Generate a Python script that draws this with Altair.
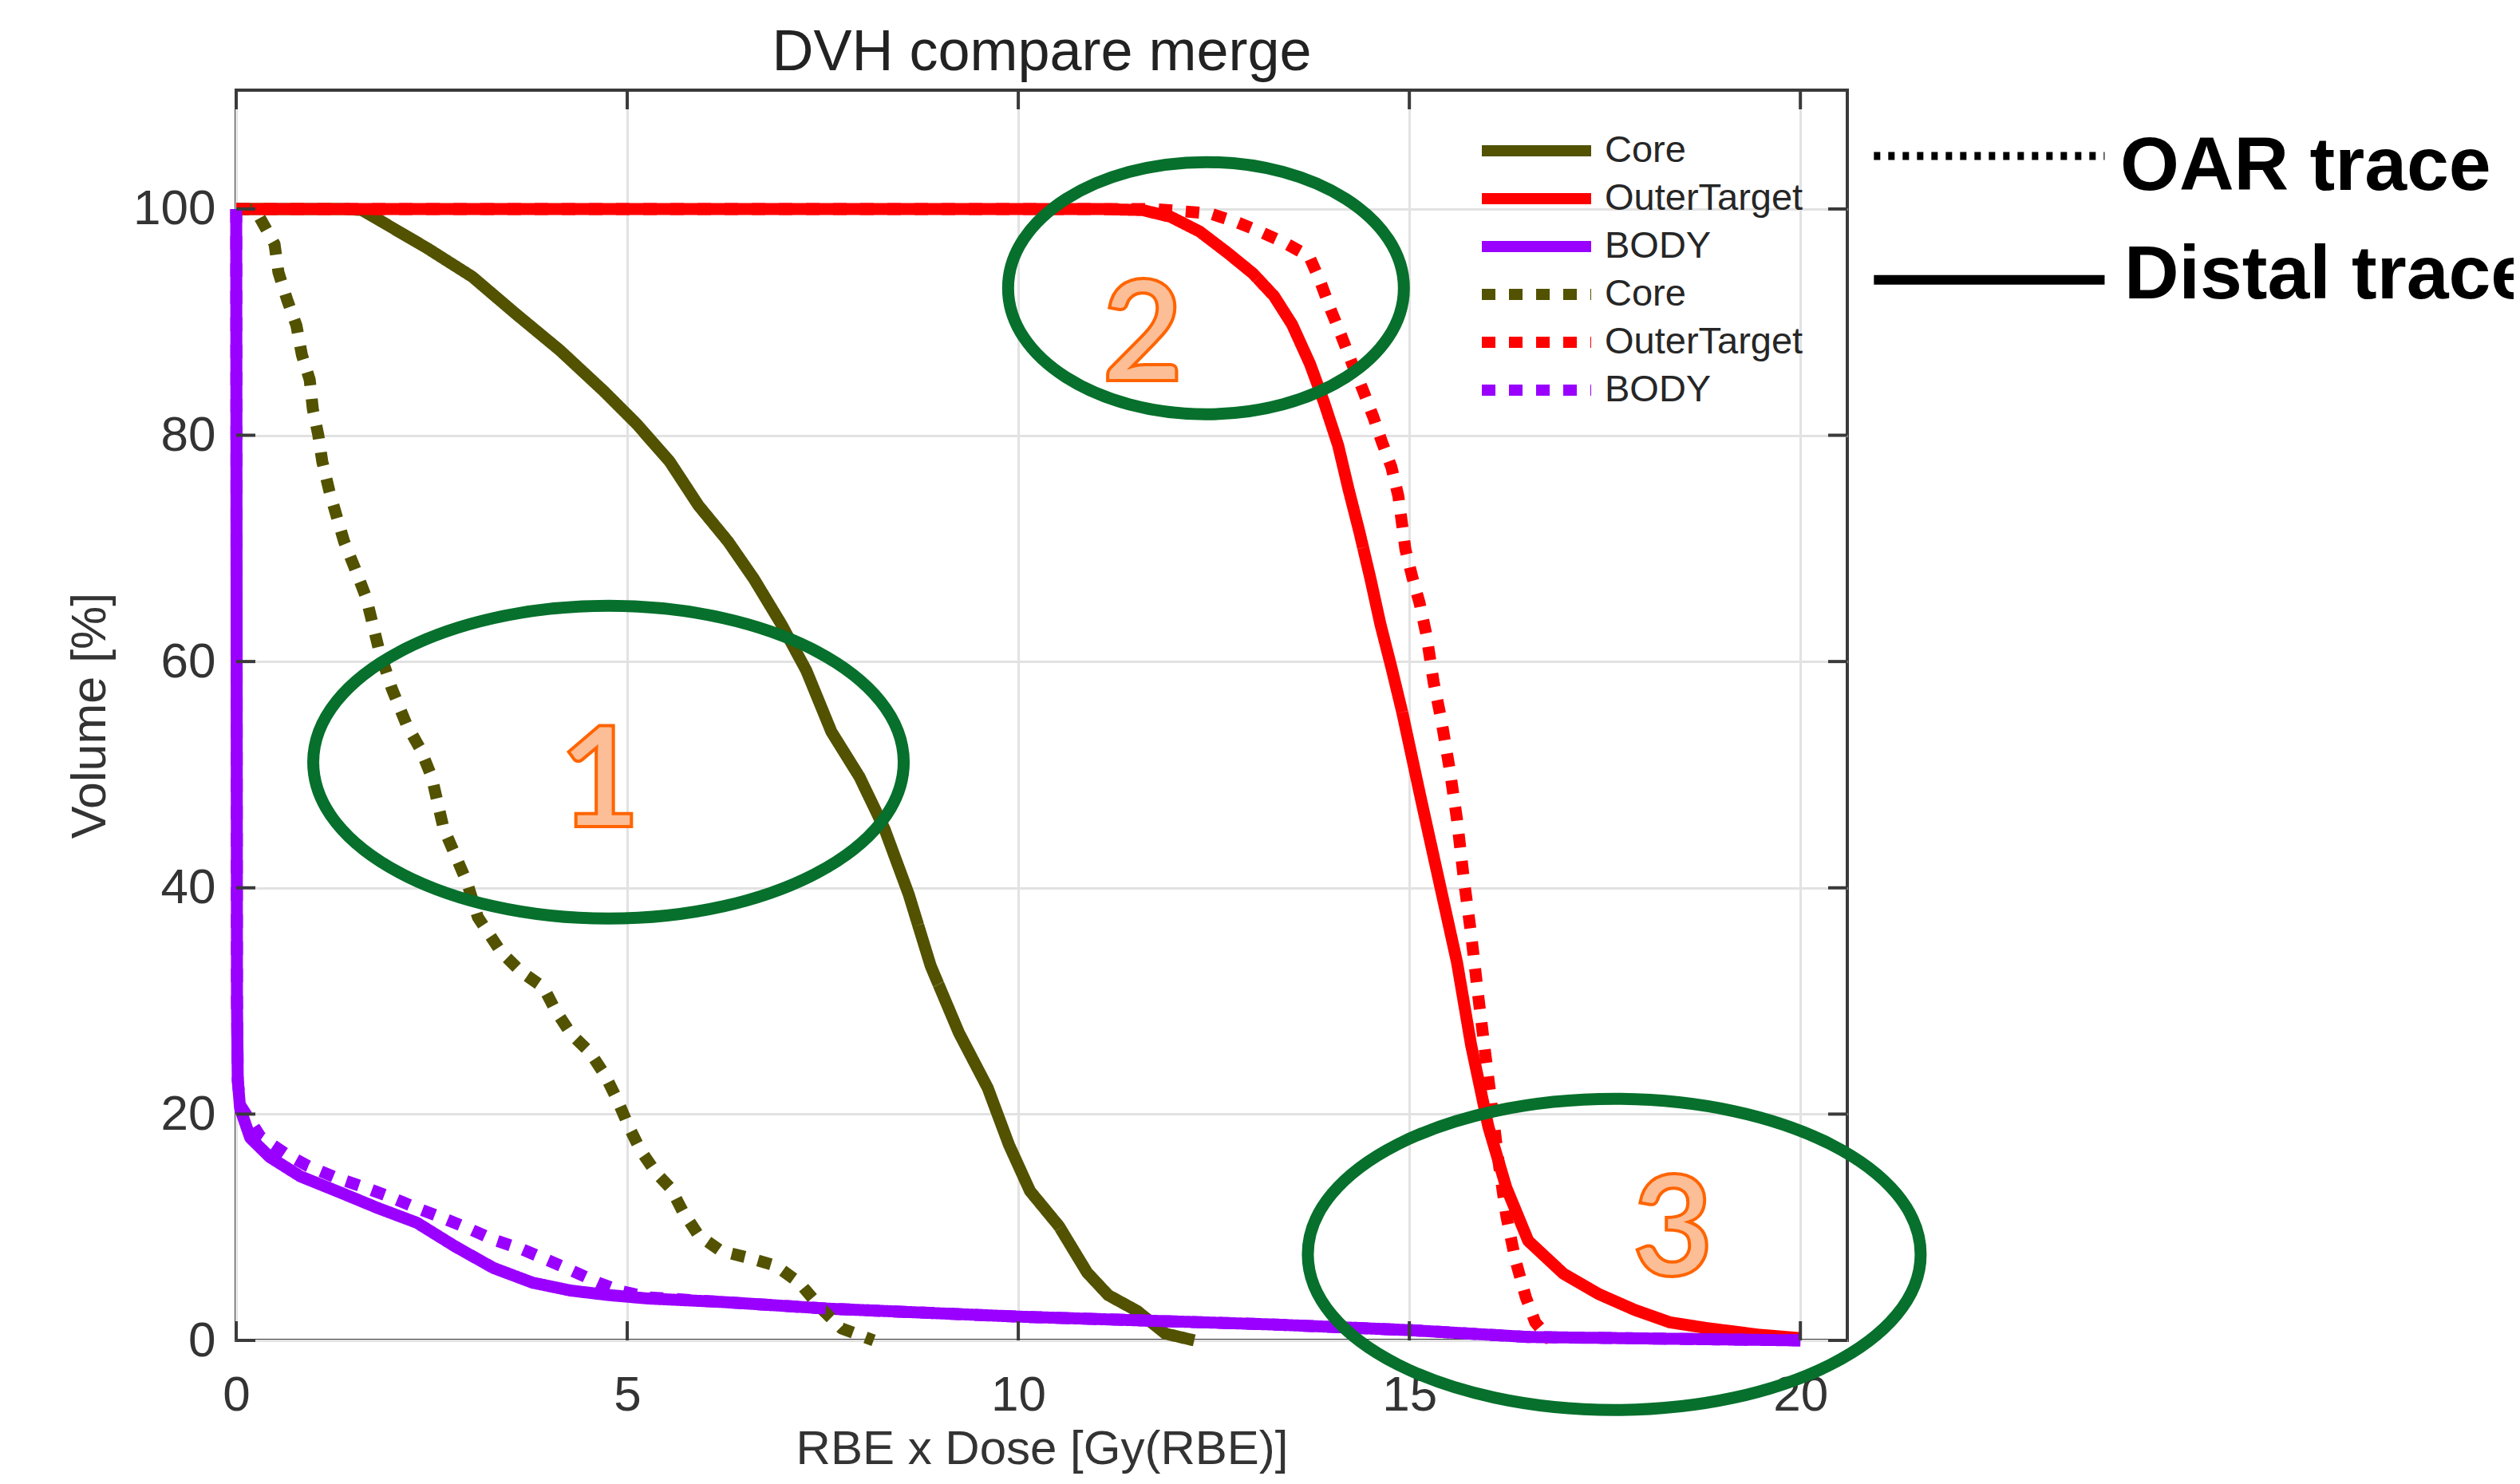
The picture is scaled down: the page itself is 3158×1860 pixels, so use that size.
import altair as alt
import pandas as pd

# ---------------- data ----------------
CORE_DISTAL_X = [0, 1.0, 1.4, 1.61, 2.03, 2.45, 3.02, 3.58, 4.14, 4.70, 5.12, 5.54, 5.91, 6.29, 6.62,
                 6.97, 7.29, 7.61, 7.97, 8.29, 8.60, 8.88, 9.24, 9.61, 9.88, 10.15, 10.52, 10.88,
                 11.15, 11.52, 11.88, 12.25]
CORE_DISTAL_Y = [100, 100, 100, 99.9, 98.2, 96.5, 94.0, 90.7, 87.5, 83.9, 81.0, 77.7, 73.8, 70.6, 67.3,
                 63.3, 59.2, 53.8, 49.8, 45.2, 39.4, 33.1, 27.2, 22.3, 17.3, 13.2, 10.1, 6.0,
                 4.0, 2.6, 0.6, 0]

CORE_OAR_X = [0, 0.15, 0.28, 0.49, 0.54, 0.65, 0.77, 0.84, 0.94, 0.98, 1.05, 1.10, 1.19, 1.29, 1.38,
              1.52, 1.66, 1.82, 1.99, 2.18, 2.36, 2.50, 2.65, 2.80, 2.95, 3.09, 3.39, 3.64, 3.93,
              4.08, 4.28, 4.53, 4.72, 4.87, 5.02, 5.17, 5.37, 5.56, 5.71, 5.91, 6.20, 6.55, 6.90,
              7.20, 7.47, 7.74, 8.15]
CORE_OAR_Y = [100, 100, 99.5, 96.9, 94.4, 92.0, 89.7, 87.1, 84.9, 82.3, 80.0, 77.7, 75.1, 72.7, 70.6,
              68.2, 65.7, 61.2, 57.6, 54.4, 52.2, 49.8, 45.3, 42.9, 40.5, 37.4, 34.3, 32.6, 31.2,
              29.2, 27.1, 25.4, 23.4, 21.3, 18.9, 16.8, 14.8, 13.4, 11.4, 9.3, 7.9, 7.3, 6.6,
              5.1, 2.9, 1.06, 0]

OUTER_DISTAL_X = [0, 11.0, 11.59, 11.95, 12.32, 12.68, 13.0, 13.27, 13.50, 13.73, 13.91, 14.09, 14.22,
                  14.36, 14.50, 14.63, 14.77, 14.91, 15.15, 15.38, 15.61, 15.79, 16.01, 16.24, 16.52,
                  16.97, 17.42, 17.88, 18.33, 18.79, 19.47, 20.0]
OUTER_DISTAL_Y = [100, 100, 99.9, 99.3, 98.0, 96.1, 94.3, 92.3, 89.8, 86.3, 82.9, 79.1, 75.3,
                  71.5, 67.4, 63.3, 59.5, 55.5, 47.8, 40.6, 33.4, 26.1, 18.9, 13.5, 8.8,
                  5.9, 4.1, 2.7, 1.6, 1.1, 0.5, 0.2]

OUTER_OAR_X = [0, 11.36, 11.72, 12.09, 12.45, 12.77, 13.09, 13.41, 13.72, 13.86, 14.0, 14.13, 14.27,
               14.40, 14.54, 14.65, 14.77, 14.86, 14.95, 15.04, 15.13, 15.22, 15.31, 15.41, 15.52,
               15.61, 15.70, 15.79, 15.88, 15.97, 16.06, 16.15, 16.24, 16.36, 16.49, 16.61, 16.81]
OUTER_OAR_Y = [100, 100, 100, 99.8, 99.6, 98.9, 98.0, 97.0, 95.8, 93.6, 91.0, 88.8, 86.3,
               84.1, 81.6, 79.4, 77.2, 74.6, 69.9, 67.4, 65.2, 62.3, 58.2, 54.8, 50.3,
               46.0, 40.6, 35.9, 30.5, 25.4, 20.4, 15.3, 11.0, 7.0, 3.8, 1.6, 0]

BODY_DISTAL_X = [0, 0.01, 0.02, 0.05, 0.18, 0.43, 0.82, 1.32, 1.81, 2.31, 2.80, 3.29, 3.79, 4.28,
                 4.77, 5.27, 6.2, 7.58, 10.0, 13.28, 15.02, 16.52, 20.0]
BODY_DISTAL_Y = [100, 30, 23, 20.5, 17.9, 16.2, 14.5, 13.1, 11.7, 10.4, 8.3, 6.4, 5.1, 4.4,
                 4.0, 3.7, 3.4, 2.8, 2.1, 1.4, 0.9, 0.3, 0]

BODY_OAR_X = [0, 0.01, 0.02, 0.05, 0.31, 0.63, 0.92, 1.27, 1.61, 1.96, 2.31, 2.65, 3.0, 3.29, 3.64,
              3.98, 4.28, 4.63, 4.9, 5.27, 6.2, 7.58, 10.0, 13.28, 15.02, 16.52, 20.0]
BODY_OAR_Y = [100, 30, 23, 20.8, 18.0, 16.5, 15.4, 14.4, 13.6, 12.7, 11.7, 10.8, 9.8, 8.9, 8.1,
              7.1, 6.2, 5.1, 4.4, 3.8, 3.4, 2.8, 2.1, 1.4, 0.9, 0.3, 0]

STRUCTURES = ["Core", "OuterTarget", "BODY"]
TRACES = ["Distal", "OAR"]
STRUCT_COLORS = ["#525200", "#ff0000", "#9900ff"]

X_TICKS = [0, 5, 10, 15, 20]
Y_TICKS = [0, 20, 40, 60, 80, 100]

# annotations (data units)
ELL_CX = [4.76, 12.40, 17.62]
ELL_CY = [51.1, 93.0, 7.6]
ELL_RX_PX = [370, 248, 384]
ELL_RY_PX = [196, 158, 195]
NUM_TEXT = ["1", "2", "3"]
NUM_X = [4.65, 11.59, 18.37]
NUM_Y = [45.4, 84.8, 5.7]

KEY_LINE_X = [20.94]
KEY_LINE_X2 = [23.89]
KEY_OAR_Y = [104.68]
KEY_DISTAL_Y = [93.74]
KEY_TEXT = ["OAR trace", "Distal trace"]
KEY_TEXT_X = [24.09, 24.14]
KEY_TEXT_Y = [101.69, 92.12]

# ---------------- build tables ----------------
series = {
    ("Core", "Distal"): (CORE_DISTAL_X, CORE_DISTAL_Y),
    ("OuterTarget", "Distal"): (OUTER_DISTAL_X, OUTER_DISTAL_Y),
    ("BODY", "Distal"): (BODY_DISTAL_X, BODY_DISTAL_Y),
    ("Core", "OAR"): (CORE_OAR_X, CORE_OAR_Y),
    ("OuterTarget", "OAR"): (OUTER_OAR_X, OUTER_OAR_Y),
    ("BODY", "OAR"): (BODY_OAR_X, BODY_OAR_Y),
}
rows = []
KEYS = []
for trace in TRACES:
    for s in STRUCTURES:
        key = f"{s} ({trace})"
        KEYS.append(key)
        xs, ys = series[(s, trace)]
        for i, (xv, yv) in enumerate(zip(xs, ys)):
            rows.append({"x": xv, "y": yv, "key": key, "i": i})
df = pd.DataFrame(rows)

COLORS = STRUCT_COLORS * 2
DASHES = [[1, 0]] * 3 + [[17, 17]] * 3

W, H = 2019, 1567
XDOM = [0, 20.6]
YDOM = [0, 110.5]
FONT = "Liberation Sans"
AXC = "#333333"
TICKC = "#3a3a3a"
GREEN = "#06702c"
XTITLE = "RBE x Dose [Gy(RBE)]"
YTITLE = "Volume [%]"

xscale = alt.Scale(domain=XDOM, nice=False, zero=False)
yscale = alt.Scale(domain=YDOM, nice=False, zero=False)

xaxis = alt.Axis(values=X_TICKS, ticks=False, domain=False, grid=True, gridColor="#e2e2e2",
                 gridWidth=3, labelFontSize=62, labelFont=FONT, labelColor=AXC, labelPadding=38,
                 labelFlush=False, title=XTITLE, titleFontSize=60, titleFont=FONT,
                 titleFontWeight="normal", titleColor=AXC, titlePadding=8)
yaxis = alt.Axis(values=Y_TICKS, ticks=False, domain=False, grid=True, gridColor="#e2e2e2",
                 gridWidth=3, labelFontSize=62, labelFont=FONT, labelColor=AXC, labelPadding=26,
                 labelFlush=False, title=YTITLE, titleFontSize=61, titleFont=FONT,
                 titleFontWeight="normal", titleColor=AXC, titlePadding=22)


def X(field):
    return alt.X(field, scale=xscale, axis=xaxis, title=XTITLE)


def Y(field):
    return alt.Y(field, scale=yscale, axis=yaxis, title=YTITLE)


legend = alt.Legend(orient="none", legendX=1554, legendY=51, title=None, symbolType="stroke",
                    symbolSize=137 * 137, symbolStrokeWidth=14, labelFontSize=47, labelFont=FONT,
                    labelColor="#262626", labelOffset=10, clipHeight=50, rowPadding=10, padding=0,
                    labelLimit=0, labelExpr="split(datum.label, ' (')[0]")

lines = alt.Chart(df).mark_line(strokeWidth=15, strokeCap="butt", strokeJoin="round", clip=False).encode(
    x=X("x:Q"),
    y=Y("y:Q"),
    color=alt.Color("key:N", scale=alt.Scale(domain=KEYS, range=COLORS), legend=legend),
    strokeDash=alt.StrokeDash("key:N", scale=alt.Scale(domain=KEYS, range=DASHES), legend=legend),
    order=alt.Order("i:Q"),
)

xt = pd.DataFrame({"v": X_TICKS})
yt = pd.DataFrame({"v": Y_TICKS})
TL = 24
tick_top = alt.Chart(xt).mark_rule(color=TICKC, strokeWidth=4).encode(
    x=X("v:Q"), y=alt.value(0), y2=alt.value(TL))
tick_bot = alt.Chart(xt).mark_rule(color=TICKC, strokeWidth=4).encode(
    x=X("v:Q"), y=alt.value(H - TL), y2=alt.value(H))
tick_left = alt.Chart(yt).mark_rule(color=TICKC, strokeWidth=4).encode(
    y=Y("v:Q"), x=alt.value(0), x2=alt.value(TL))
tick_right = alt.Chart(yt).mark_rule(color=TICKC, strokeWidth=4).encode(
    y=Y("v:Q"), x=alt.value(W - TL), x2=alt.value(W))


def ellipse_path(r):
    k = 0.5523
    return (f"M-1,0C-1,{-k*r:.4f},{-k:.4f},{-r:.4f},0,{-r:.4f}"
            f"C{k:.4f},{-r:.4f},1,{-k*r:.4f},1,0"
            f"C1,{k*r:.4f},{k:.4f},{r:.4f},0,{r:.4f}"
            f"C{-k:.4f},{r:.4f},-1,{k*r:.4f},-1,0Z")


ell = pd.DataFrame({
    "cx": ELL_CX, "cy": ELL_CY,
    "shape": [ellipse_path(ry / rx) for rx, ry in zip(ELL_RX_PX, ELL_RY_PX)],
    "size": [(2 * rx) ** 2 for rx in ELL_RX_PX],
})
ellipses = alt.Chart(ell).mark_point(filled=False, strokeWidth=15, color=GREEN, opacity=1).encode(
    x=X("cx:Q"),
    y=Y("cy:Q"),
    shape=alt.Shape("shape:N", scale=None),
    size=alt.Size("size:Q", scale=None),
)

nums = pd.DataFrame({"t": NUM_TEXT, "x": NUM_X, "y": NUM_Y})
numbers = alt.Chart(nums).mark_text(font="Lato", fontWeight="bold", fontSize=174, fill="#fbbe96",
                                    stroke="#ff6400", strokeWidth=4, align="center",
                                    baseline="alphabetic").encode(
    x=X("x:Q"),
    y=Y("y:Q"),
    text="t:N",
)

kl = pd.DataFrame({"x": KEY_LINE_X, "x2": KEY_LINE_X2, "yo": KEY_OAR_Y, "yd": KEY_DISTAL_Y})
key_oar = alt.Chart(kl).mark_rule(color="black", strokeWidth=10, strokeDash=[8, 10]).encode(
    x=X("x:Q"), x2="x2:Q", y=Y("yo:Q"))
key_distal = alt.Chart(kl).mark_rule(color="black", strokeWidth=12).encode(
    x=X("x:Q"), x2="x2:Q", y=Y("yd:Q"))
kt = pd.DataFrame({"t": KEY_TEXT, "x": KEY_TEXT_X, "y": KEY_TEXT_Y})
key_text = alt.Chart(kt).mark_text(font=FONT, fontWeight="bold", fontSize=95, color="black",
                                   align="left", baseline="alphabetic").encode(
    x=X("x:Q"),
    y=Y("y:Q"),
    text="t:N",
)

chart = alt.layer(
    lines, tick_top, tick_bot, tick_left, tick_right, ellipses, numbers, key_oar, key_distal, key_text
).properties(
    width=W, height=H,
    title=alt.Title("DVH compare merge", fontSize=72, font=FONT, fontWeight="normal",
                    color="#222222", anchor="middle", offset=8),
    autosize=alt.AutoSizeParams(type="none"),
    padding={"left": 288, "top": 105, "right": 835, "bottom": 172},
).configure_view(stroke=TICKC, strokeWidth=4)

chart.save("out.html", embed_options={"renderer": "svg", "actions": False})
